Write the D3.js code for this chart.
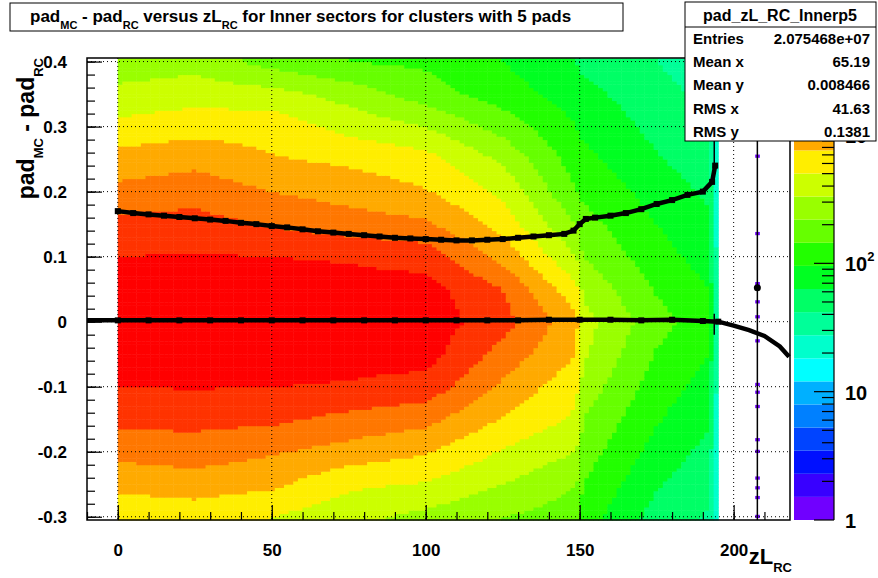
<!DOCTYPE html>
<html><head><meta charset="utf-8">
<script src="https://cdn.jsdelivr.net/npm/d3@7"></script>
<style>body{margin:0;background:#fff}text{font-family:"Liberation Sans",Arial,sans-serif;font-weight:bold}</style>
</head><body>
<svg id="c" width="878" height="578"></svg>
<script>
// palette levels (bottom -> top), each band = 0.18 decade
var palette = ["#7000ff","#3800ff","#0010ff","#0044ff","#0080ff","#00b0ff","#00ffff","#00ffcc","#00ff99","#00ff66",
               "#00ff22","#22ff00","#66ff00","#99ff00","#ccff00","#ffee00","#ffaa00","#ff7700","#ff3300","#ff0000"];

// level grid: rows = gridX, columns = gridY
var gridY = [0.4,0.35,0.3,0.25,0.2,0.15,0.1,0.05,0,-0.05,-0.1,-0.15,-0.2,-0.25,-0.3];
var gridX = [0,25,50,75,100,125,149,151,175,192,195];
var gridLevels = [
  [13.4,14.3,15.3,16.4,17.3,18.3,19.0,19.6,19.8,19.6,19.0,18.3,17.3,16.3,15.2],
  [13.6,14.6,15.6,16.7,17.6,18.4,19.1,19.6,19.8,19.6,19.05,18.3,17.5,16.5,15.4],
  [12.6,14.4,15.6,16.1,17.0,17.9,19.0,19.5,19.7,19.5,19.0,18.2,17.1,16.2,15.0],
  [12.0,13.6,14.7,15.8,16.6,17.5,18.9,19.4,19.6,19.4,18.9,17.7,16.6,15.2,14.3],
  [11.8,12.5,14.0,15.4,16.1,17.2,18.6,19.4,19.6,19.4,18.6,17.3,16.1,14.9,13.7],
  [11.0,11.5,12.6,13.8,14.8,15.6,16.7,18.0,18.4,17.6,16.8,15.9,14.9,14.0,13.0],
  [10.0,10.5,11.0,11.5,12.0,13.0,14.0,15.3,16.3,16.0,15.3,14.8,14.0,13.0,12.5],
  [9.8,10.3,10.8,11.3,11.8,12.4,13.0,13.8,14.4,14.2,13.6,13.0,12.5,12.0,11.5],
  [9.0,9.4,9.7,10.1,10.6,11.0,11.4,11.9,12.4,11.9,11.5,11.1,10.6,10.1,9.6],
  [8.4,8.7,9.0,9.4,9.8,10.2,10.6,11.0,11.4,11.0,10.6,10.1,9.7,9.3,8.9],
  [6.6,6.7,6.8,6.9,7.0,7.1,7.2,7.3,7.4,7.3,7.2,7.0,6.8,6.7,6.6]
];

// isolated single-count bins near zL = 208
var loneY = [0.252,0.133,0.056,0.028,0.005,-0.032,-0.099,-0.111,-0.133,-0.184,-0.202,-0.243,-0.258,-0.273,-0.302];

// profile curves
var upperX = [0,5,10,15,20,25,30,35,40,45,50,55,60,65,70,75,80,85,90,95,100,105,110,115,120,125,130,135,140,145,148,150,152,155,160,165,170,175,180,185,190,193,194];
var upperY = [0.170,0.167,0.165,0.163,0.161,0.159,0.157,0.155,0.152,0.150,0.147,0.145,0.142,0.139,0.137,0.135,0.133,0.131,0.129,0.128,0.127,0.126,0.125,0.125,0.126,0.127,0.129,0.131,0.133,0.135,0.140,0.150,0.158,0.160,0.163,0.167,0.173,0.181,0.187,0.195,0.200,0.215,0.240];
var lowerX = [-10,0,10,20,30,40,50,60,70,80,90,100,110,120,130,140,150,160,170,180,190,195,200,205,210,215,218];
var lowerY = [0.002,0.002,0.002,0.002,0.002,0.002,0.002,0.002,0.002,0.002,0.002,0.002,0.002,0.002,0.002,0.003,0.003,0.003,0.002,0.003,0.001,0.000,-0.006,-0.013,-0.022,-0.038,-0.054];

var xTicks = [0,50,100,150,200];
var yTicks = [-0.3,-0.2,-0.1,0,0.1,0.2,0.3,0.4];

var svg = d3.select("#c");
var L = 87, R = 790, T = 58, B = 520;
var x = d3.scaleLinear().domain([-10, 218.3]).range([L, R]);
var y = d3.scaleLinear().domain([-0.305, 0.4055]).range([B, T]);

function levelAt(xv, yv) {
  var i = d3.bisectRight(gridX, xv) - 1;
  i = Math.max(0, Math.min(gridX.length - 2, i));
  var tx = (xv - gridX[i]) / (gridX[i+1] - gridX[i]);
  tx = Math.max(0, Math.min(1, tx));
  var yi = Math.floor((0.4 - yv) / 0.05);
  yi = Math.max(0, Math.min(gridY.length - 2, yi));
  var ty = (gridY[yi] - yv) / 0.05;
  ty = Math.max(0, Math.min(1, ty));
  var a = gridLevels[i], b = gridLevels[i+1];
  var top = a[yi] + (b[yi] - a[yi]) * tx;
  var bot = a[yi+1] + (b[yi+1] - a[yi+1]) * tx;
  return top + (bot - top) * ty;
}

var g = svg.append("g");
var bw = 1.5, bh = 0.005;
var cells = [];
for (var xb = 0; xb < 195; xb += bw) {
  for (var yb = -0.305; yb < 0.405; yb += bh) {
    cells.push({x: xb, y: yb, v: levelAt(xb + bw/2, yb + bh/2)});
  }
}
g.selectAll("rect.cell").data(cells).enter().append("rect")
  .attr("x", d => x(d.x)).attr("y", d => y(d.y + bh))
  .attr("width", x(bw) - x(0) + 0.5).attr("height", y(0) - y(bh) + 0.5)
  .attr("fill", d => palette[Math.max(0, Math.min(19, Math.floor(d.v)))]);
g.selectAll("rect.lone").data(loneY).enter().append("rect")
  .attr("x", x(207)).attr("y", d => y(d + bh)).attr("width", x(1.5) - x(0)).attr("height", y(0) - y(bh))
  .attr("fill", palette[0]);

// grid
var grid = svg.append("g").attr("stroke", "#000").attr("stroke-dasharray", "1,3").attr("stroke-width", 1);
grid.selectAll("line.gx").data(xTicks).enter().append("line")
  .attr("x1", d => x(d)).attr("x2", d => x(d)).attr("y1", T).attr("y2", B);
grid.selectAll("line.gy").data(yTicks).enter().append("line")
  .attr("x1", L).attr("x2", R).attr("y1", d => y(d)).attr("y2", d => y(d));

// profiles
var line = d3.line().x(d => x(d[0])).y(d => y(d[1]));
var up = upperX.map((v, i) => [v, upperY[i]]);
var lo = lowerX.map((v, i) => [v, lowerY[i]]);
svg.append("path").attr("d", line(up)).attr("fill", "none").attr("stroke", "#000").attr("stroke-width", 4.5);
svg.append("path").attr("d", line(lo)).attr("fill", "none").attr("stroke", "#000").attr("stroke-width", 4.5);
svg.selectAll("rect.pu").data(up.concat(lo.filter(d => d[0] >= 0 && d[0] <= 195))).enter().append("rect")
  .attr("x", d => x(d[0]) - 3).attr("y", d => y(d[1]) - 3).attr("width", 6).attr("height", 6).attr("fill", "#000");
svg.append("line").attr("x1", x(193.7)).attr("x2", x(193.7)).attr("y1", y(0.4)).attr("y2", y(0.23)).attr("stroke", "#000").attr("stroke-width", 1.5);
svg.append("line").attr("x1", x(193.7)).attr("x2", x(193.7)).attr("y1", y(0.012)).attr("y2", y(-0.02)).attr("stroke", "#000").attr("stroke-width", 1.5);
svg.append("line").attr("x1", x(207.7)).attr("x2", x(207.7)).attr("y1", y(0.4)).attr("y2", B).attr("stroke", "#000").attr("stroke-width", 1.5);
svg.append("circle").attr("cx", x(207.7)).attr("cy", y(0.052)).attr("r", 3.5).attr("fill", "#000");

// frame + axes
svg.append("rect").attr("x", L).attr("y", T).attr("width", R - L).attr("height", B - T)
  .attr("fill", "none").attr("stroke", "#000").attr("stroke-width", 1.5);
var ax = svg.append("g").attr("transform", "translate(0," + B + ")")
  .call(d3.axisBottom(x).tickValues(d3.range(-10, 219, 10)).tickSize(-8).tickFormat(""));
ax.append("g").call(d3.axisBottom(x).tickValues(xTicks).tickSize(-15).tickPadding(24).tickFormat(d3.format("d")));
var ay = svg.append("g").attr("transform", "translate(" + L + ",0)")
  .call(d3.axisLeft(y).tickValues(d3.range(-0.3, 0.401, 0.02)).tickSize(-8).tickFormat(""));
ay.append("g").call(d3.axisLeft(y).tickValues(yTicks).tickSize(-15).tickPadding(20)
  .tickFormat(d => Math.abs(d) < 1e-9 ? "0" : d.toFixed(1)));
svg.selectAll(".domain").remove();
svg.selectAll(".tick line").attr("stroke", "#000").attr("stroke-width", 1.2);
svg.selectAll(".tick text").attr("font-size", 17).attr("fill", "#000").attr("font-family", "Liberation Sans").attr("font-weight", "bold");

// axis titles
var yt = svg.append("text").attr("transform", "translate(34,58) rotate(-90)").attr("text-anchor", "end").attr("font-size", 23);
yt.append("tspan").text("pad");
yt.append("tspan").attr("font-size", 13).attr("dy", 9).text("MC");
yt.append("tspan").attr("dy", -9).text(" - pad");
yt.append("tspan").attr("font-size", 13).attr("dy", 9).text("RC");
var xt = svg.append("text").attr("x", 792).attr("y", 564).attr("text-anchor", "end").attr("font-size", 22);
xt.append("tspan").text("zL");
xt.append("tspan").attr("font-size", 13).attr("dy", 8).text("RC");

// palette axis
var zl = d3.scaleLog().domain([1, Math.pow(10, 3.6)]).range([B, T]);
svg.selectAll("rect.pal").data(palette).enter().append("rect")
  .attr("x", 794).attr("width", 40)
  .attr("y", (d, i) => zl(Math.pow(10, (i + 1) * 0.18))).attr("height", (d, i) => zl(Math.pow(10, i * 0.18)) - zl(Math.pow(10, (i + 1) * 0.18)))
  .attr("fill", d => d);
var minor = [];
[1, 10, 100, 1000].forEach(function (p) { for (var k = 1; k < 10; k++) if (p * k < 3900) minor.push(p * k); });
svg.selectAll("line.zt").data(minor).enter().append("line")
  .attr("x1", d => [1, 10, 100, 1000].indexOf(d) >= 0 ? 814 : 822).attr("x2", 834)
  .attr("y1", d => zl(d)).attr("y2", d => zl(d)).attr("stroke", "#000").attr("stroke-width", 1.2);
svg.append("line").attr("x1", 834).attr("x2", 834).attr("y1", T).attr("y2", B).attr("stroke", "#000").attr("stroke-width", 1.2);
var zlab = svg.append("g").attr("font-size", 20);
zlab.append("text").attr("x", 845).attr("y", zl(1) + 8).text("1");
zlab.append("text").attr("x", 845).attr("y", zl(10) + 8).text("10");
var z2 = zlab.append("text").attr("x", 845).attr("y", zl(100) + 8); z2.append("tspan").text("10"); z2.append("tspan").attr("font-size", 13).attr("dy", -10).text("2");
var z3 = zlab.append("text").attr("x", 845).attr("y", zl(1000) + 8); z3.append("tspan").text("10"); z3.append("tspan").attr("font-size", 13).attr("dy", -10).text("3");

// title box
svg.append("rect").attr("x", 10).attr("y", 3).attr("width", 613).attr("height", 28).attr("fill", "#fff").attr("stroke", "#000");
var tt = svg.append("text").attr("x", 30).attr("y", 22).attr("font-size", 17);
tt.append("tspan").text("pad");
tt.append("tspan").attr("font-size", 11).attr("dy", 7).text("MC");
tt.append("tspan").attr("dy", -7).text(" - pad");
tt.append("tspan").attr("font-size", 11).attr("dy", 7).text("RC");
tt.append("tspan").attr("dy", -7).text(" versus zL");
tt.append("tspan").attr("font-size", 11).attr("dy", 7).text("RC");
tt.append("tspan").attr("dy", -7).text(" for Inner sectors for clusters with 5 pads");

// stats box
var statLabels = ["Entries", "Mean x", "Mean y", "RMS x", "RMS y"];
var statValues = ["2.075468e+07", "65.19", "0.008466", "41.63", "0.1381"];
var sb = svg.append("g");
sb.append("rect").attr("x", 685).attr("y", 2).attr("width", 191).attr("height", 139).attr("fill", "#fff").attr("stroke", "#000");
sb.append("line").attr("x1", 685).attr("x2", 876).attr("y1", 27).attr("y2", 27).attr("stroke", "#000");
sb.append("text").attr("x", 780).attr("y", 21).attr("text-anchor", "middle").attr("font-size", 16).text("pad_zL_RC_Innerp5");
sb.selectAll("text.sl").data(statLabels).enter().append("text")
  .attr("x", 693).attr("y", (d, i) => 44 + i * 23.2).attr("font-size", 15).text(d => d);
sb.selectAll("text.sv").data(statValues).enter().append("text")
  .attr("x", 870).attr("y", (d, i) => 44 + i * 23.2).attr("text-anchor", "end").attr("font-size", 15).text(d => d);
</script>
</body></html>
